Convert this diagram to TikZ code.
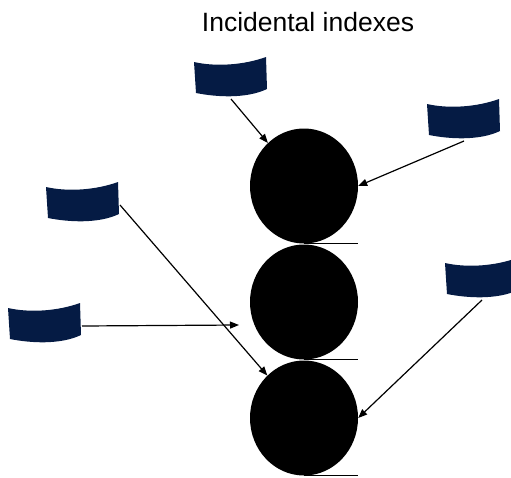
\documentclass[tikz,border=0pt]{standalone}
\usepackage{fontspec}
\setmainfont{Liberation Sans}
\usetikzlibrary{arrows.meta,shapes.geometric}
\definecolor{docnavy}{RGB}{5,27,68}

\begin{document}
\begin{tikzpicture}[
  x=1pt, y=-1pt, >={Triangle[length=9pt,width=7pt]},
  ball/.style={ellipse, fill=black, minimum width=108pt, minimum height=115pt, inner sep=0pt},
  lnk/.style={->, line width=1.2pt},
  rim/.style={line width=1.2pt},
  pics/doc/.style={code={
    \fill[docnavy] (0,5) .. controls (22,10) and (50,8) .. (72,0)
      -- (73,32) .. controls (52,42) and (22,40) .. (2,36) -- cycle;
    \coordinate (-s) at (37,42);
    \coordinate (-e) at (74,23);}}]
\clip (0,0) rectangle (511,477);
\useasboundingbox (0,0) rectangle (511,477);
\node[font=\fontsize{26.5}{30}\selectfont, anchor=base] (title) at (308,31) {Incidental indexes};
% stacked balls
\node[ball] (c1) at (304,186) {};
\node[ball] (c2) at (304,302) {};
\node[ball] (c3) at (304,418) {};
\draw[rim] (c1.south) -- ++(54,0);
\draw[rim] (c2.south) -- ++(54,0);
\draw[rim] (c3.south) -- ++(54,0);
% index cards
\pic (d1) at (194,57) {doc};
\pic (d2) at (427,99) {doc};
\pic (d3) at (46,182) {doc};
\pic (d4) at (8,303) {doc};
\pic (d5) at (445,258) {doc};
\coordinate (aim) at (239,325);
\draw[lnk] (d1-s) -- (c1);
\draw[lnk] (d2-s) -- (c1.east);
\draw[lnk] (d3-e) -- (c3);
\draw[lnk] (d4-e) -- (aim);
\draw[lnk] (d5-s) -- (c3.east);
\end{tikzpicture}
\end{document}
